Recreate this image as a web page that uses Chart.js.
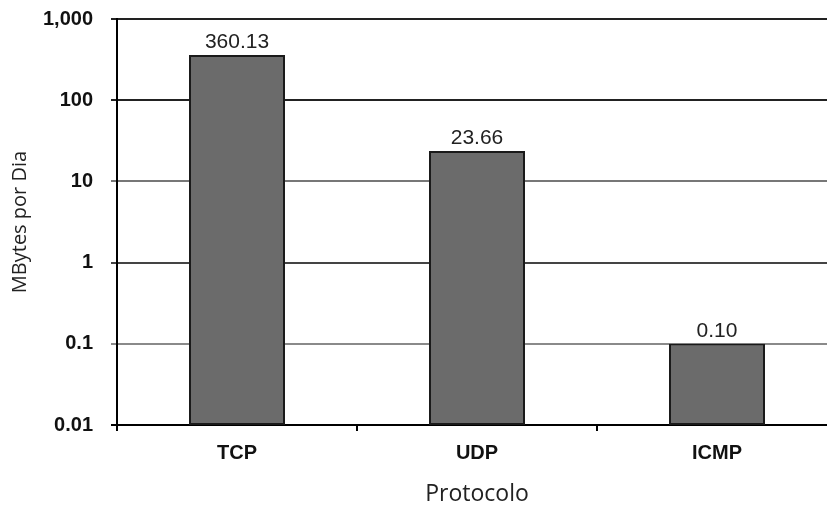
<!DOCTYPE html>
<html>
<head>
<meta charset="utf-8">
<script src="https://cdn.jsdelivr.net/npm/chart.js@4/dist/chart.umd.min.js"></script>
<style>
  body { margin: 0; background: #fff; overflow: hidden; }
  #wrap { width: 840px; height: 508px; overflow: hidden; }
  #chart { display: block; margin-top: -11px; }
</style>
</head>
<body>
<div id="wrap"><canvas id="chart" width="840" height="519"></canvas></div>
<script>
// Protocol categories
const protocols = ['TCP', 'UDP', 'ICMP'];

// MBytes per day for each protocol
const mbytesPerDay = [360.13, 23.66, 0.10];

// Y axis ticks (log scale) and their labels
const yTickValues = [0.01, 0.1, 1, 10, 100, 1000];
const yTickLabels = ['0.01', '0.1', '1', '10', '100', '1,000'];

// Gridline shades per tick (scanned look)
const gridShades = ['#000', '#8a8a8a', '#444', '#777', '#222', '#222'];

const ARIAL = '"Liberation Sans", Arial, sans-serif';
const OPEN = '"Open Sans", "Liberation Sans", sans-serif';

// Value labels above the bars
const valueLabels = {
    id: 'valueLabels',
    afterDatasetsDraw(chart) {
        const ctx = chart.ctx;
        const meta = chart.getDatasetMeta(0);
        ctx.save();
        ctx.font = '21px ' + ARIAL;
        ctx.fillStyle = '#222';
        ctx.textAlign = 'center';
        ctx.textBaseline = 'bottom';
        meta.data.forEach(function(bar, i) {
            ctx.fillText(mbytesPerDay[i].toFixed(2), bar.x, bar.y - 2);
        });
        ctx.restore();
    }
};

const ctx = document.getElementById('chart').getContext('2d');
new Chart(ctx, {
    type: 'bar',
    data: {
        labels: protocols,
        datasets: [{
            data: mbytesPerDay,
            backgroundColor: '#6b6b6b',
            borderColor: '#1a1a1a',
            borderWidth: 2,
            borderSkipped: false,
            barPercentage: 0.4,
            categoryPercentage: 1.0,
        }],
    },
    options: {
        responsive: false,
        animation: false,
        layout: { padding: { top: 18, right: 3, left: 0, bottom: 0 } },
        plugins: {
            legend: { display: false },
            tooltip: { enabled: false },
        },
        scales: {
            x: {
                border: { color: '#000', width: 2 },
                grid: {
                    drawOnChartArea: false,
                    drawTicks: true,
                    tickLength: 6,
                    color: '#000',
                    lineWidth: 2,
                },
                ticks: {
                    color: '#111',
                    padding: 10,
                    font: { family: ARIAL, size: 20, weight: 'bold' },
                },
                title: {
                    display: true,
                    text: 'Protocolo',
                    color: '#222',
                    font: { family: OPEN, size: 23 },
                    padding: { top: 4, bottom: 0 },
                },
                afterFit: function(axis) { axis.height = 83; },
            },
            y: {
                type: 'logarithmic',
                min: 0.01,
                max: 1000,
                border: { color: '#000', width: 2 },
                grid: {
                    color: function(c) {
                        const i = yTickValues.indexOf(c.tick.value);
                        return i >= 0 ? gridShades[i] : '#777';
                    },
                    lineWidth: 2,
                    tickLength: 6,
                },
                afterBuildTicks: function(axis) {
                    axis.ticks = yTickValues.map(v => ({ value: v }));
                },
                ticks: {
                    color: '#111',
                    padding: 18,
                    font: { family: ARIAL, size: 20, weight: 'bold' },
                    callback: function(value) {
                        const i = yTickValues.indexOf(value);
                        return i >= 0 ? yTickLabels[i] : '';
                    },
                },
                title: {
                    display: true,
                    text: 'MBytes por Dia',
                    color: '#222',
                    font: { family: OPEN, size: 20 },
                    padding: { top: 8, bottom: 4 },
                },
                afterFit: function(axis) { axis.width = 117; },
            },
        },
    },
    plugins: [valueLabels],
});
</script>
</body>
</html>
